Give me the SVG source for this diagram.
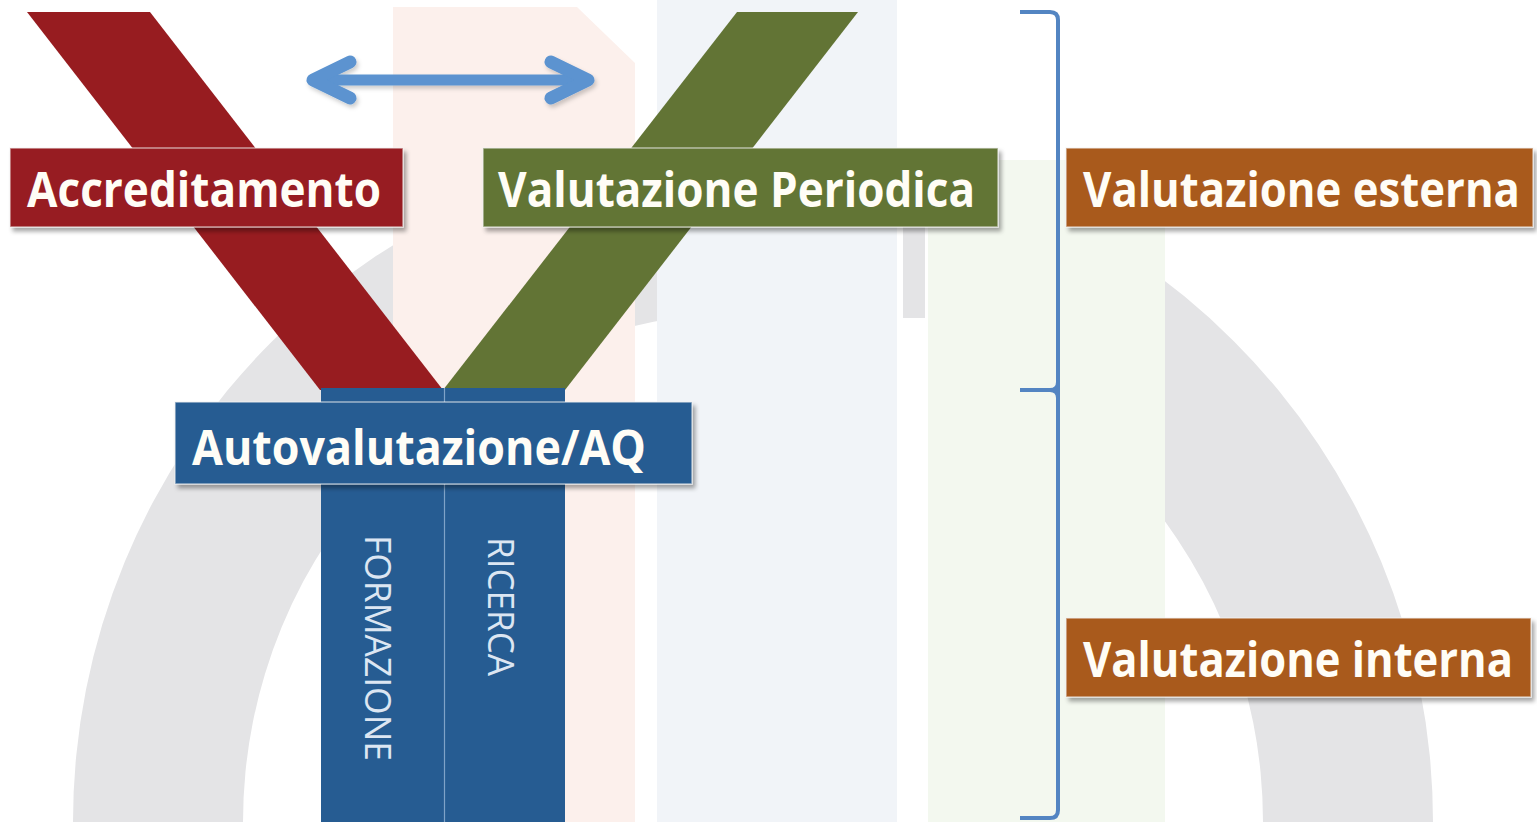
<svg xmlns="http://www.w3.org/2000/svg" width="1537" height="822" viewBox="0 0 1537 822">
  <defs>
    <filter id="sh" x="-5%" y="-20%" width="112%" height="150%">
      <feDropShadow dx="3" dy="4" stdDeviation="2" flood-color="#000" flood-opacity="0.35"/>
    </filter>
    <filter id="ash" x="-5%" y="-50%" width="110%" height="200%">
      <feDropShadow dx="2" dy="3" stdDeviation="2" flood-color="#000" flood-opacity="0.2"/>
    </filter>
  </defs>
  <style>
    .lbl { font-family: "Open Sans", "Liberation Sans", sans-serif; font-weight: 700; fill: #FFFDF6; }
    .vt { font-family: "Open Sans", "Liberation Sans", sans-serif; font-weight: 400; fill: #DCE6F2; font-size: 36px; }
    .box { stroke: #F2F2F2; stroke-opacity: 0.6; stroke-width: 1.5; filter: url(#sh); }
    .red { fill: #971C20; }
    .grn { fill: #627435; }
    .blu { fill: #265C92; }
    .org { fill: #A95A1A; }
  </style>

  <!-- background watermark -->
  <g id="background">
    <rect x="0" y="0" width="1537" height="822" fill="#FFFFFF"/>
    <path d="M 73 822 A 680 680 0 0 1 1433 822 L 1263 822 A 510 510 0 0 0 243 822 Z" fill="#E4E4E6"/>
    <path d="M 393 7 L 577 7 L 635 63 L 635 822 L 393 822 Z" fill="#FCF0EC"/>
    <rect x="657" y="0" width="240" height="822" fill="#F1F4F8"/>
    <rect x="897" y="0" width="6" height="822" fill="#FFFFFF"/>
    <rect x="925" y="0" width="3" height="822" fill="#FFFFFF"/>
    <rect x="903" y="318" width="25" height="504" fill="#FFFFFF"/>
    <rect x="928" y="160" width="237" height="662" fill="#F3F8EF"/>
  </g>

  <!-- V bands -->
  <g id="band-red">
    <polygon class="red" points="27,12 150,12 443,390 320,390"/>
  </g>
  <g id="band-green">
    <polygon class="grn" points="737,12 858,12 565,390 443,390"/>
  </g>

  <!-- columns -->
  <g id="col-formazione">
    <rect class="blu" x="321" y="388" width="123" height="434"/>
    <text class="vt" transform="translate(365,535) rotate(90)" textLength="226" lengthAdjust="spacingAndGlyphs">FORMAZIONE</text>
  </g>
  <g id="col-ricerca">
    <rect class="blu" x="445" y="388" width="120" height="434"/>
    <text class="vt" transform="translate(488,537) rotate(90)" textLength="139" lengthAdjust="spacingAndGlyphs">RICERCA</text>
  </g>
  <line x1="444.5" y1="388" x2="444.5" y2="822" stroke="#7FA3C8" stroke-width="1.2"/>

  <!-- labels -->
  <g id="accreditamento">
    <rect class="box red" x="10" y="148" width="393" height="79"/>
    <text class="lbl" x="27" y="207" font-size="48" textLength="354" lengthAdjust="spacingAndGlyphs">Accreditamento</text>
  </g>
  <g id="valutazione-periodica">
    <rect class="box grn" x="483" y="148" width="515" height="79"/>
    <text class="lbl" x="498" y="207" font-size="48" textLength="477" lengthAdjust="spacingAndGlyphs">Valutazione Periodica</text>
  </g>
  <g id="autovalutazione">
    <rect class="box blu" x="175" y="402" width="517" height="82"/>
    <text class="lbl" x="192" y="465" font-size="49" textLength="454" lengthAdjust="spacingAndGlyphs">Autovalutazione/AQ</text>
  </g>
  <g id="valutazione-esterna">
    <rect class="box org" x="1066" y="148" width="467" height="79"/>
    <text class="lbl" transform="translate(1083,207) scale(1,1.09)" x="0" y="0" font-size="44" textLength="437" lengthAdjust="spacingAndGlyphs">Valutazione esterna</text>
  </g>
  <g id="valutazione-interna">
    <rect class="box org" x="1066" y="618" width="465" height="79"/>
    <text class="lbl" transform="translate(1083,677) scale(1,1.09)" x="0" y="0" font-size="44" textLength="430" lengthAdjust="spacingAndGlyphs">Valutazione interna</text>
  </g>

  <!-- connectors -->
  <g id="connectors" fill="none" stroke-linecap="round" stroke-linejoin="round">
    <g filter="url(#ash)" stroke="#5B93D0">
      <line x1="318" y1="80" x2="582" y2="80" stroke-width="11"/>
      <polyline points="350,62 313,80 350,98" stroke-width="13"/>
      <polyline points="551,62 588,80 551,98" stroke-width="13"/>
    </g>
    <path d="M 1020 12 L 1050 12 Q 1058 12 1058 20 L 1058 810 Q 1058 818 1050 818 L 1020 818 M 1020 390 L 1050 390 Q 1058 390 1058 382 M 1050 390 Q 1058 390 1058 398" stroke="#5385C2" stroke-width="4" stroke-linecap="butt"/>
  </g>
</svg>
